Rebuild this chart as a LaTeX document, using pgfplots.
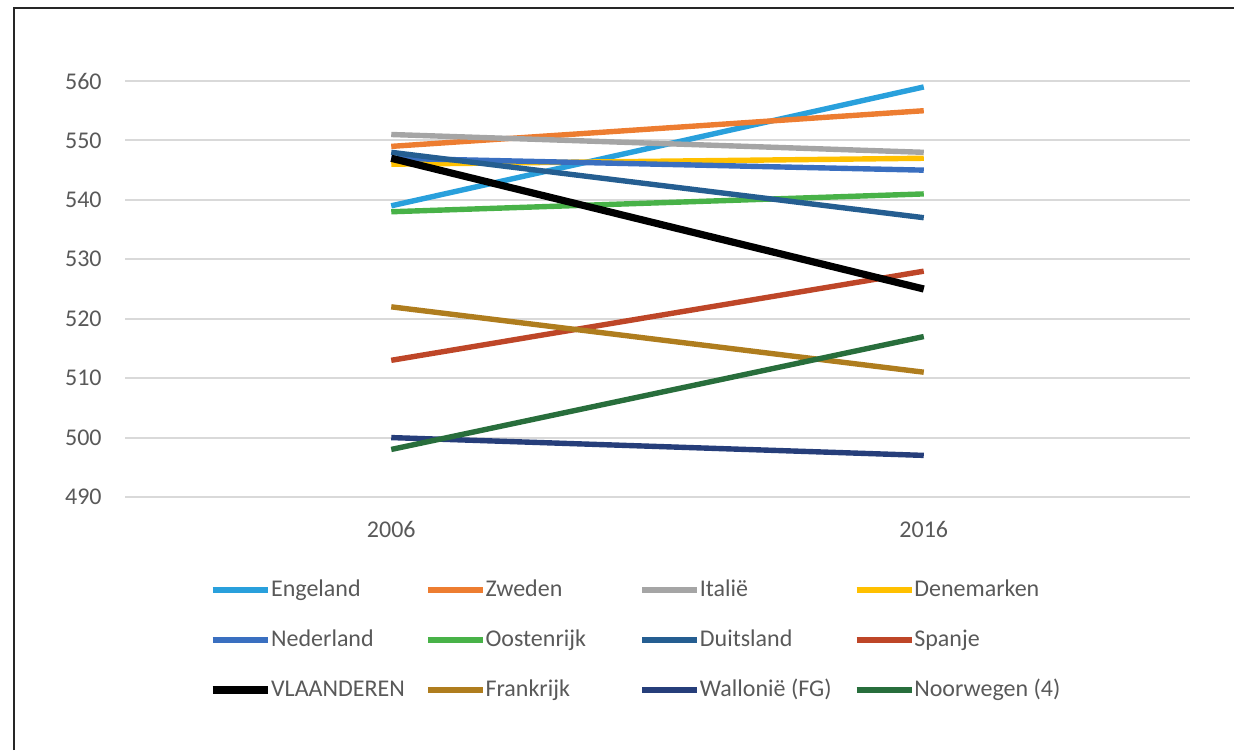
\documentclass[border=0pt]{standalone}
\usepackage{fontspec}
\setmainfont{Carlito}
\usepackage{pgfplots}
\pgfplotsset{compat=1.18}
\definecolor{cEng}{RGB}{41,160,220}
\definecolor{cZwe}{RGB}{237,125,49}
\definecolor{cIta}{RGB}{165,165,165}
\definecolor{cDen}{RGB}{255,192,0}
\definecolor{cNed}{RGB}{58,111,192}
\definecolor{cOos}{RGB}{72,178,72}
\definecolor{cDui}{RGB}{37,94,145}
\definecolor{cSpa}{RGB}{190,70,40}
\definecolor{cFra}{RGB}{175,125,30}
\definecolor{cWal}{RGB}{38,62,122}
\definecolor{cNoo}{RGB}{40,110,60}
\definecolor{txt}{RGB}{89,89,89}
\definecolor{grd}{RGB}{217,217,217}
\newcommand{\lb}[1]{\makebox[77pt][l]{#1}}
\begin{document}
\begin{tikzpicture}
\path[use as bounding box] (0,0) rectangle (617pt,375pt);
\draw[line width=1.2pt, black!85] (7pt,0pt) -- (7pt,371pt) -- (617pt,371pt);
\begin{axis}[
  at={(62.5pt,126.5pt)}, anchor=south west,
  scale only axis, width=532.5pt, height=208pt,
  xmin=-0.5, xmax=1.5, ymin=490, ymax=560,
  xtick={0,1}, xticklabels={2006,2016},
  ytick={490,500,...,560},
  axis line style={draw=none}, tick style={draw=none},
  major tick length=0pt,
  ymajorgrids, grid style={grd, line width=1pt},
  clip=false,
  font=\fontsize{12}{14}\selectfont, text=txt,
  /pgf/number format/assume math mode=true,
  /pgf/number format/1000 sep={},
  yticklabel style={anchor=east, inner sep=0pt, xshift=-11.5pt, text=txt},
  xticklabel style={anchor=north, inner sep=0pt, yshift=-12pt, text=txt},
  every axis plot/.append style={line width=2.7pt, mark=none},
  legend columns=4,
  legend image code/.code={\draw[#1] (0pt,0pt) -- (27.5pt,0pt);},
  legend style={at={(0.0788,-0.1947)}, anchor=north west, draw=none, fill=none,
    inner sep=0pt, outer sep=0pt, column sep=0pt, row sep=13pt,
    nodes={inner xsep=0pt, inner ysep=0pt, text height=9pt, text depth=3pt, text=txt},
    font=\fontsize{12}{14}\selectfont},
  legend cell align=left,
]
\addplot[cEng] coordinates {(0,539) (1,559)};
\addlegendentry{\lb{Engeland}}
\addplot[cZwe] coordinates {(0,549) (1,555)};
\addlegendentry{\lb{Zweden}}
\addplot[cIta] coordinates {(0,551) (1,548)};
\addlegendentry{\lb{Italië}}
\addplot[cDen] coordinates {(0,546) (1,547)};
\addlegendentry{\lb{Denemarken}}
\addplot[cNed] coordinates {(0,547) (1,545)};
\addlegendentry{\lb{Nederland}}
\addplot[cOos] coordinates {(0,538) (1,541)};
\addlegendentry{\lb{Oostenrijk}}
\addplot[cDui] coordinates {(0,548) (1,537)};
\addlegendentry{\lb{Duitsland}}
\addplot[cSpa] coordinates {(0,513) (1,528)};
\addlegendentry{\lb{Spanje}}
\addplot[black, line width=3.6pt] coordinates {(0,547) (1,525)};
\addlegendentry{\lb{VLAANDEREN}}
\addplot[cFra] coordinates {(0,522) (1,511)};
\addlegendentry{\lb{Frankrijk}}
\addplot[cWal] coordinates {(0,500) (1,497)};
\addlegendentry{\lb{Wallonië (FG)}}
\addplot[cNoo] coordinates {(0,498) (1,517)};
\addlegendentry{\lb{Noorwegen (4)}}
\end{axis}
\end{tikzpicture}
\end{document}
